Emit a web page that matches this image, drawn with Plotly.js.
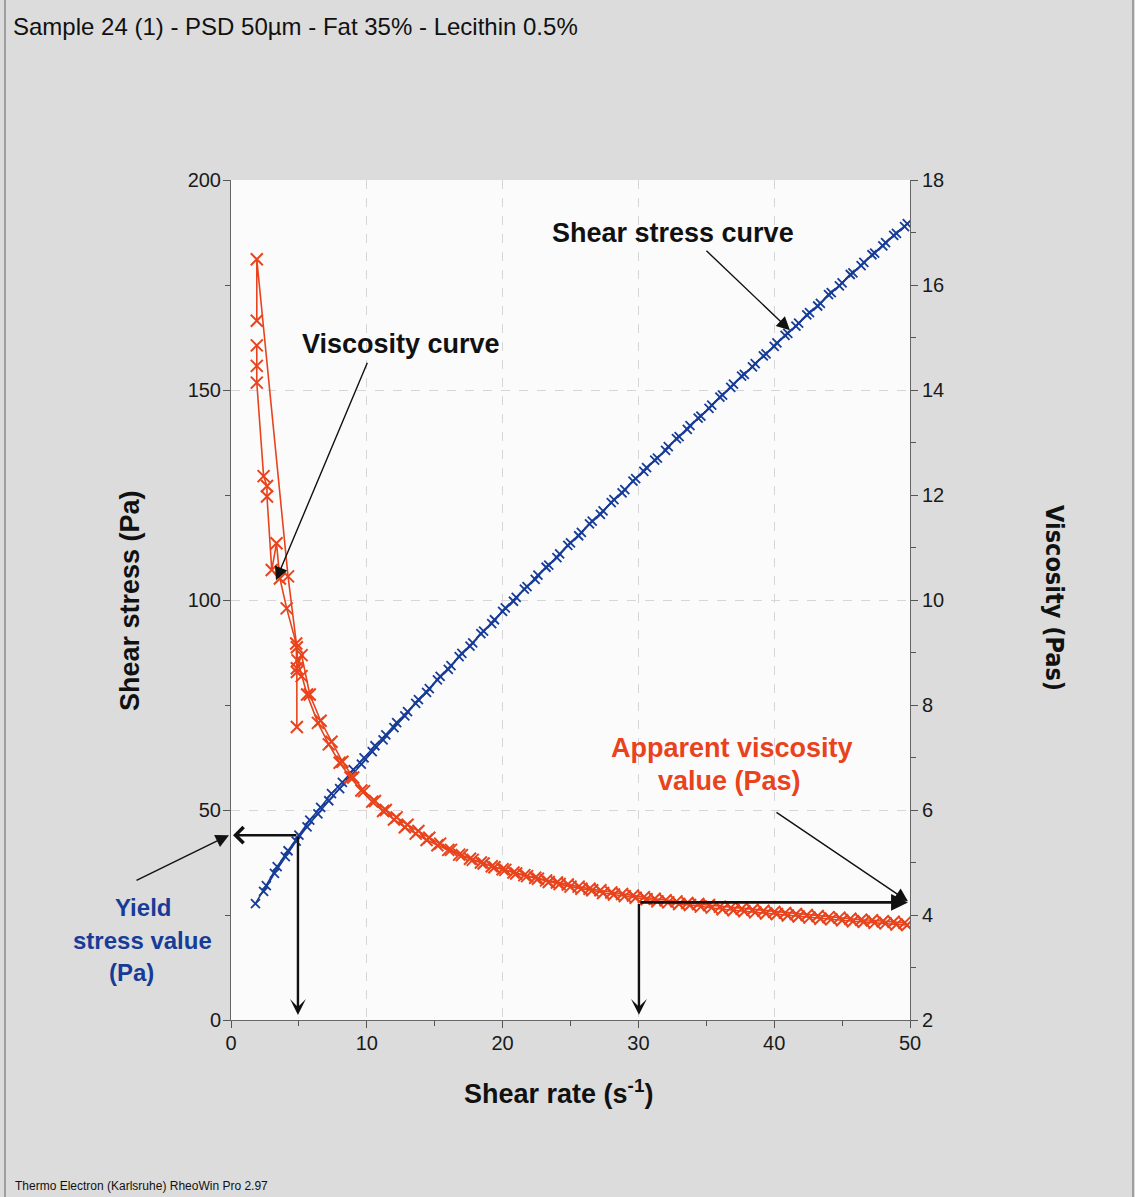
<!DOCTYPE html>
<html>
<head>
<meta charset="utf-8">
<script src="https://cdn.plot.ly/plotly-3.0.1.min.js"></script>
<style>
  html, body { margin: 0; padding: 0; background: #dcdcdc; }
  #chart { width: 1135px; height: 1197px; }
</style>
</head>
<body>
<div id="chart"></div>
<script>
// ---------------- DATA ----------------
// Shear stress, ramp up
const rateUp = [1.8, 2.6, 3.4, 4.2, 5, 5.8, 6.6, 7.4, 8.2, 9, 9.8, 10.6, 11.4, 12.2, 13, 13.8, 14.6, 15.4, 16.2, 17, 17.8, 18.6, 19.4, 20.2, 21, 21.8, 22.6, 23.4, 24.2, 25, 25.8, 26.6, 27.4, 28.2, 29, 29.8, 30.6, 31.4, 32.2, 33, 33.8, 34.6, 35.4, 36.2, 37, 37.8, 38.6, 39.4, 40.2, 41, 41.8, 42.6, 43.4, 44.2, 45, 45.8, 46.6, 47.4, 48.2, 49, 49.8];
const stressUp = [27.7, 32.0, 36.5, 40.3, 44.0, 47.6, 50.6, 53.9, 56.6, 59.6, 62.4, 65.3, 67.9, 70.8, 73.4, 76.3, 78.9, 81.8, 84.4, 87.3, 89.8, 92.6, 95.3, 98.1, 100.6, 103.2, 105.9, 108.3, 111.0, 113.6, 116.1, 118.8, 121.2, 123.9, 126.3, 128.9, 131.5, 133.8, 136.5, 138.9, 141.5, 143.8, 146.4, 148.8, 151.4, 153.7, 156.3, 158.6, 161.2, 163.5, 165.9, 168.4, 170.6, 173.2, 175.5, 177.9, 180.4, 182.6, 185.1, 187.3, 189.6];
// Shear stress, ramp down
const rateDown = [49.6, 48.8, 48.0, 47.2, 46.4, 45.6, 44.8, 44.0, 43.2, 42.4, 41.6, 40.8, 40.0, 39.2, 38.4, 37.6, 36.8, 36.0, 35.2, 34.4, 33.6, 32.8, 32.0, 31.2, 30.4, 29.6, 28.8, 28.0, 27.2, 26.4, 25.6, 24.8, 24.0, 23.2, 22.4, 21.6, 20.8, 20.0, 19.2, 18.4, 17.6, 16.8, 16.0, 15.2, 14.4, 13.6, 12.8, 12.0, 11.2, 10.4, 9.6, 8.8, 8.0, 7.2, 6.4, 5.6, 4.8, 4.0, 3.2, 2.4];
const stressDown = [188.9, 186.8, 184.3, 182.2, 179.6, 177.5, 174.8, 172.7, 170.0, 167.9, 165.2, 163.0, 160.4, 158.1, 155.5, 153.3, 150.6, 148.3, 145.6, 143.3, 140.6, 138.4, 135.6, 133.3, 130.6, 128.3, 125.5, 123.2, 120.4, 118.1, 115.3, 113.0, 110.1, 107.8, 104.9, 102.6, 99.7, 97.3, 94.4, 92.0, 89.0, 86.5, 83.5, 81.0, 78.0, 75.4, 72.4, 69.6, 66.7, 63.9, 60.9, 58.1, 55.1, 52.2, 49.1, 46.0, 42.6, 38.9, 34.9, 30.6];
// Viscosity, ramp up
const viscRateUp = [1.9, 1.9, 1.9, 2.4, 2.65, 2.65, 3.0, 3.35, 3.6, 4.1, 4.8, 4.85, 4.85, 4.85, 5.2, 5.8, 6.6, 7.4, 8.2, 9, 9.8, 10.6, 11.4, 12.2, 13, 13.8, 14.6, 15.4, 16.2, 17, 17.8, 18.6, 19.4, 20.2, 21, 21.8, 22.6, 23.4, 24.2, 25, 25.8, 26.6, 27.4, 28.2, 29, 29.8, 30.6, 31.4, 32.2, 33, 33.8, 34.6, 35.4, 36.2, 37, 37.8, 38.6, 39.4, 40.2, 41, 41.8, 42.6, 43.4, 44.2, 45, 45.8, 46.6, 47.4, 48.2, 49, 49.8];
const viscUp = [14.85, 14.46, 14.14, 12.36, 12.17, 11.97, 10.57, 11.08, 10.41, 9.84, 9.17, 8.63, 7.58, 8.70, 8.95, 8.20, 7.70, 7.30, 6.92, 6.62, 6.36, 6.17, 6.00, 5.86, 5.72, 5.60, 5.47, 5.36, 5.24, 5.14, 5.05, 4.98, 4.91, 4.86, 4.79, 4.74, 4.69, 4.63, 4.59, 4.54, 4.50, 4.47, 4.42, 4.39, 4.36, 4.33, 4.30, 4.26, 4.24, 4.21, 4.19, 4.16, 4.14, 4.11, 4.09, 4.07, 4.05, 4.03, 4.02, 3.99, 3.97, 3.95, 3.93, 3.92, 3.90, 3.88, 3.87, 3.85, 3.84, 3.82, 3.81];
// Viscosity, ramp down
const viscRateDown = [49.6, 48.8, 48.0, 47.2, 46.4, 45.6, 44.8, 44.0, 43.2, 42.4, 41.6, 40.8, 40.0, 39.2, 38.4, 37.6, 36.8, 36.0, 35.2, 34.4, 33.6, 32.8, 32.0, 31.2, 30.4, 29.6, 28.8, 28.0, 27.2, 26.4, 25.6, 24.8, 24.0, 23.2, 22.4, 21.6, 20.8, 20.0, 19.2, 18.4, 17.6, 16.8, 16.0, 15.2, 14.4, 13.6, 12.8, 12.0, 11.2, 10.4, 9.6, 8.8, 8.0, 7.2, 6.4, 5.6, 5.2, 4.9, 4.85, 4.2, 1.9, 1.9];
const viscDown = [3.85, 3.87, 3.88, 3.90, 3.91, 3.93, 3.95, 3.96, 3.98, 4.00, 4.02, 4.04, 4.06, 4.08, 4.10, 4.12, 4.14, 4.16, 4.19, 4.21, 4.23, 4.26, 4.28, 4.31, 4.34, 4.37, 4.40, 4.43, 4.47, 4.50, 4.54, 4.58, 4.62, 4.66, 4.71, 4.76, 4.81, 4.87, 4.93, 5.00, 5.07, 5.15, 5.24, 5.33, 5.43, 5.55, 5.67, 5.82, 5.98, 6.16, 6.37, 6.62, 6.90, 7.25, 7.66, 8.20, 8.55, 8.85, 9.10, 10.45, 16.49, 15.32];
// Read-off markers
const yieldRate = 4.93, yieldStress = 44.0;          // yield stress construction
const appRate = 30.04, appVisc = 4.24;               // apparent viscosity construction

// ---------------- STYLE ----------------
const RED = '#e8431c';
const BLUE = '#173c98';
const NARROW = '"Liberation Sans Narrow", "Arial Narrow", "DejaVu Sans Condensed", sans-serif';
const SANS = '"Liberation Sans", Arial, sans-serif';

// pixel -> paper helpers (plot area: x 231..910, y 180..1020)
const L = 231, R = 910, T = 180, B = 1020;
const px = X => (X - L) / (R - L);
const py = Y => (B - Y) / (B - T);

const traces = [
  {x: rateUp, y: stressUp, type: 'scatter', mode: 'lines+markers', yaxis: 'y',
   line: {color: BLUE, width: 1.6},
   marker: {symbol: 'x-thin', size: 9, line: {color: BLUE, width: 1.8}}},
  {x: rateDown, y: stressDown, type: 'scatter', mode: 'lines+markers', yaxis: 'y',
   line: {color: BLUE, width: 1.6},
   marker: {symbol: 'x-thin', size: 9, line: {color: BLUE, width: 1.8}}},
  {x: viscRateUp, y: viscUp, type: 'scatter', mode: 'lines+markers', yaxis: 'y2',
   line: {color: RED, width: 1.6},
   marker: {symbol: 'x-thin', size: 12, line: {color: RED, width: 2}}},
  {x: viscRateDown, y: viscDown, type: 'scatter', mode: 'lines+markers', yaxis: 'y2',
   line: {color: RED, width: 1.6},
   marker: {symbol: 'x-thin', size: 12, line: {color: RED, width: 2}}}
];

const tickfont = {family: SANS, size: 20, color: '#1a1a1a'};
const axisCommon = {
  ticks: 'outside', ticklen: 7, tickwidth: 1, tickcolor: '#555',
  showline: true, linecolor: '#666', linewidth: 1,
  zeroline: false, tickfont: tickfont, fixedrange: true
};

function txt(text, X, Y, font, extra) {
  return Object.assign({text: text, xref: 'paper', yref: 'paper', x: px(X), y: py(Y),
    xanchor: 'center', yanchor: 'middle', showarrow: false, font: font}, extra || {});
}
const boldFont = (c, s) => ({family: SANS, size: s || 27, color: c});

const annotations = [
  txt('Sample 24 (1) - PSD 50µm - Fat 35% - Lecithin 0.5%', 11, 27,
      {family: SANS, size: 24, color: '#111'}, {xanchor: 'left'}),
  txt('Thermo Electron (Karlsruhe) RheoWin Pro 2.97', 13, 1186,
      {family: SANS, size: 12, color: '#111'}, {xanchor: 'left'}),
  txt('<b>Shear stress (Pa)</b>', 130, 601, boldFont('#111', 27), {textangle: -90}),
  txt('<b>Viscosity (Pas)</b>', 1055, 598, {family: NARROW, size: 25, color: '#111'}, {textangle: 90}),
  txt('<b>Shear rate (s<sup>-1</sup>)</b>', 558, 1092, boldFont('#111', 27)),
  txt('<b>Shear stress curve</b>', 673, 233, boldFont('#111')),
  txt('<b>Viscosity curve</b>', 401, 344, boldFont('#111')),
  txt('<b>Apparent viscosity</b>', 732, 748, boldFont(RED)),
  txt('<b>value (Pas)</b>', 729, 781, boldFont(RED)),
  txt('<b>Yield</b>', 143, 907, boldFont(BLUE, 24)),
  txt('<b>stress value</b>', 142, 940, boldFont(BLUE, 24)),
  txt('<b>(Pa)</b>', 131, 972, boldFont(BLUE, 24)),
  // thin label arrows
  {text: '', xref: 'x', yref: 'y', x: 41.16, y: 164.2, ax: -85, ay: -81, showarrow: true,
   arrowhead: 2, arrowsize: 1.9, arrowwidth: 1.4, arrowcolor: '#111'},
  {text: '', xref: 'x', yref: 'y', x: 3.31, y: 104.7, ax: 92, ay: -219, showarrow: true,
   arrowhead: 2, arrowsize: 1.9, arrowwidth: 1.4, arrowcolor: '#111'},
  {text: '', xref: 'x', yref: 'y2', x: 49.85, y: 4.26, ax: -133, ay: -90, showarrow: true,
   arrowhead: 2, arrowsize: 1.9, arrowwidth: 1.4, arrowcolor: '#111'},
  {text: '', xref: 'paper', yref: 'y', x: px(229), y: yieldStress, ax: -94, ay: 46, showarrow: true,
   arrowhead: 2, arrowsize: 1.9, arrowwidth: 1.4, arrowcolor: '#111'},
  // thick construction lines
  {text: '', xref: 'x', yref: 'y', x: 0.15, y: yieldStress, axref: 'x', ayref: 'y',
   ax: yieldRate, ay: yieldStress, showarrow: true, arrowhead: 4, arrowsize: 1.3, arrowwidth: 2.4, arrowcolor: '#111'},
  {text: '', xref: 'x', yref: 'y', x: yieldRate, y: 1.2, axref: 'x', ayref: 'y',
   ax: yieldRate, ay: yieldStress, showarrow: true, arrowhead: 3, arrowsize: 1.1, arrowwidth: 2.4, arrowcolor: '#111'},
  {text: '', xref: 'x', yref: 'y2', x: appRate, y: 2.1, axref: 'x', ayref: 'y2',
   ax: appRate, ay: appVisc, showarrow: true, arrowhead: 3, arrowsize: 1.1, arrowwidth: 2.4, arrowcolor: '#111'},
  {text: '', xref: 'x', yref: 'y2', x: 49.85, y: appVisc, axref: 'x', ayref: 'y2',
   ax: appRate, ay: appVisc, showarrow: true, arrowhead: 2, arrowsize: 1.3, arrowwidth: 2.6, arrowcolor: '#111'}
];

const layout = {
  width: 1135, height: 1197,
  paper_bgcolor: '#dcdcdc', plot_bgcolor: '#fbfbfb',
  margin: {l: L, r: 1135 - R, t: T, b: 1197 - B, pad: 0},
  showlegend: false,
  xaxis: Object.assign({}, axisCommon, {
    range: [0, 50], dtick: 10, tick0: 0, ticklabelstandoff: -2,
    showgrid: true, gridcolor: '#d6d6d6', griddash: 'dash', gridwidth: 1,
    minor: {dtick: 5, ticks: 'outside', ticklen: 5, tickcolor: '#555', showgrid: false}
  }),
  yaxis: Object.assign({}, axisCommon, {
    range: [0, 200], dtick: 50, tick0: 0, ticklabelstandoff: -2,
    showgrid: true, gridcolor: '#d6d6d6', griddash: 'dash', gridwidth: 1,
    minor: {dtick: 25, ticks: 'outside', ticklen: 5, tickcolor: '#555', showgrid: false}
  }),
  yaxis2: Object.assign({}, axisCommon, {
    range: [2, 18], dtick: 2, tick0: 2, overlaying: 'y', side: 'right',
    showgrid: false,
    minor: {dtick: 1, ticks: 'outside', ticklen: 5, tickcolor: '#555', showgrid: false}
  }),
  annotations: annotations,
  shapes: [
    {type: 'line', xref: 'paper', yref: 'paper', x0: px(5), x1: px(5), y0: py(0), y1: py(1197),
     line: {color: '#8a8a8a', width: 1.5}},
    {type: 'line', xref: 'paper', yref: 'paper', x0: px(1133), x1: px(1133), y0: py(0), y1: py(1197),
     line: {color: '#8a8a8a', width: 1.5}}
  ]
};

Plotly.newPlot('chart', traces, layout, {staticPlot: true, displayModeBar: false});
</script>
</body>
</html>
